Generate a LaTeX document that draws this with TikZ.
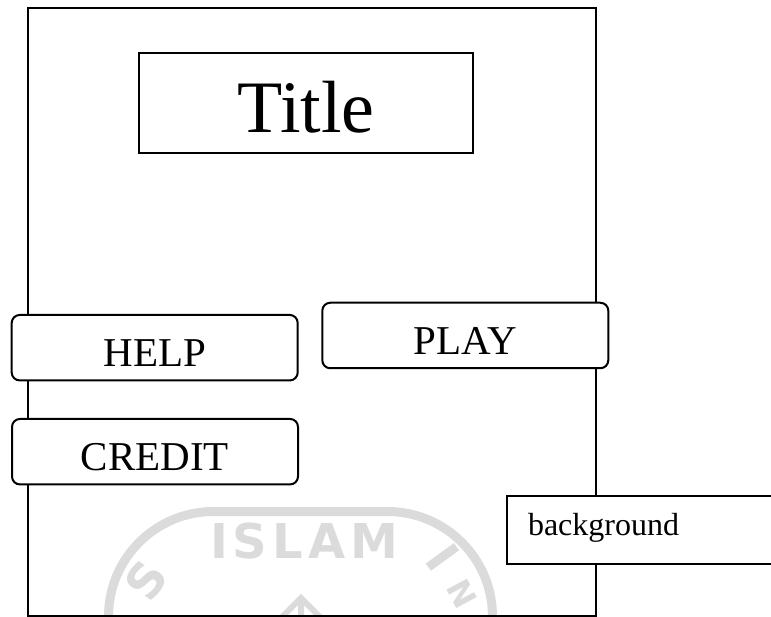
\documentclass[tikz,border=0pt]{standalone}
\usepackage{fontspec}
\setmainfont{Liberation Serif}
\newfontfamily\logofont{DejaVu Sans}

\begin{document}
\begin{tikzpicture}[x=1pt, y=-1pt,
        box/.style={draw, line width=2pt, fill=white, inner sep=0pt},
        button/.style={box, rounded corners=8pt, minimum width=286pt, minimum height=65.5pt,
            text height=38pt, text depth=0pt, font=\fontsize{41}{41}\selectfont},
        wmark/.style={black!14, inner sep=0pt, font=\logofont\bfseries\fontsize{48}{48}\selectfont}]
        \useasboundingbox (0,0) rectangle (771,617);
        \draw[black!14, line width=9pt, rounded corners=105pt] (108.5,511.5) rectangle (492.5,800);
        \node[wmark, anchor=base] (islam) at (304,558) {I\kern5pt S\kern5pt L\kern5pt A\kern5pt M};
        \node[wmark, rotate=55] (wms) at (146,580) {S};
        \node[wmark, rotate=-54] (wmi) at (443,557) {I};
        \node[wmark, rotate=-62, font=\logofont\bfseries\fontsize{32}{32}\selectfont] (wmn) at (462,594) {N};
        \draw[black!14, line width=6pt] (282,617) -- (301,598) -- (320,617) (301,598) -- (301,617);
        \node[draw, line width=2pt, inner sep=0pt, minimum width=568.5pt, minimum height=607.5pt] (screen) at (311.75,312.25) {};
        \node[box, minimum width=333.4pt, minimum height=100.3pt, text height=58pt, text depth=0pt,
            font=\fontsize{74}{74}\selectfont] (title) at (306,103.2) {Title};
        \node[button] (help) at (154.7,347.7) {HELP};
        \node[button] (play) at (465.3,335.5) {PLAY};
        \node[button] (credit) at (155,451.7) {CREDIT};
        \node[box, anchor=west, minimum height=68.6pt, text width=250pt, inner xsep=21.3pt,
            text height=17pt, text depth=7pt, font=\fontsize{32}{32}\selectfont] (bg) at (505.7,530) {background};
    \end{tikzpicture}
\end{document}
